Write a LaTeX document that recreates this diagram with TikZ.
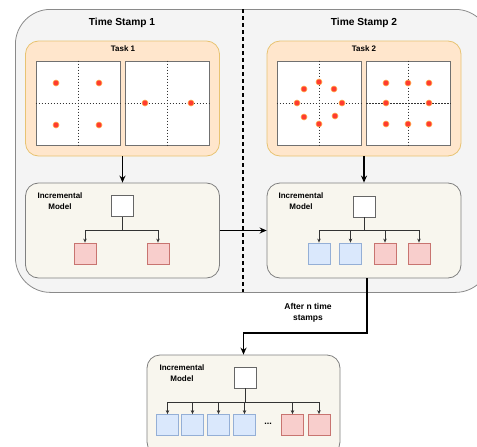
\documentclass[tikz,border=0pt]{standalone}
\usepackage{fontspec}
\setmainfont{Liberation Sans}
\usetikzlibrary{arrows.meta,calc}
\definecolor{outerfill}{HTML}{F4F4F4}
\definecolor{outerline}{HTML}{8A8A8A}
\definecolor{taskfill}{HTML}{FFE6CC}
\definecolor{taskline}{HTML}{E8C372}
\definecolor{modelfill}{HTML}{F8F6EE}
\definecolor{modelline}{HTML}{808080}
\definecolor{redfill}{HTML}{F8CECC}
\definecolor{redline}{HTML}{C87470}
\definecolor{bluefill}{HTML}{DAE8FC}
\definecolor{blueline}{HTML}{94AFD6}
\definecolor{dotfill}{HTML}{FF3B2F}
\definecolor{dotline}{HTML}{FFB050}
\definecolor{gridline}{HTML}{707070}
\tikzset{
  outerbox/.style={draw=outerline, fill=outerfill, line width=0.8pt, rounded corners=35pt, minimum width=475pt, minimum height=283pt, anchor=north west},
  taskbox/.style={draw=taskline, fill=taskfill, line width=0.8pt, rounded corners=13pt, minimum width=194pt, minimum height=115pt},
  modelbox/.style={draw=modelline, fill=modelfill, line width=0.8pt, rounded corners=13pt, minimum width=194pt, minimum height=95pt},
  gridsq/.style={draw=gridline, fill=white, line width=0.9pt, minimum width=84pt, minimum height=84pt},
  gridmid/.style={draw=black!80, line width=0.5pt, dash pattern=on 1.5pt off 1.5pt},
  dot/.style={circle, draw=dotline, fill=dotfill, line width=0.6pt, minimum size=6pt, inner sep=0pt},
  whitesq/.style={draw=black!60, fill=white, line width=0.8pt, minimum width=22pt, minimum height=21pt},
  redsq/.style={draw=redline, fill=redfill, line width=0.8pt, minimum width=22pt, minimum height=21pt},
  bluesq/.style={draw=blueline, fill=bluefill, line width=0.8pt, minimum width=22pt, minimum height=21pt},
  title/.style={font=\fontsize{10.2}{12}\selectfont\bfseries},
  lbl/.style={font=\fontsize{8}{11}\selectfont\bfseries, align=center, inner sep=0pt},
  bigarrow/.style={draw=black, line width=1.5pt, -{Stealth[length=7pt,width=6pt]}},
  treeline/.style={draw=black!80, line width=0.7pt},
  treearrow/.style={draw=black!80, line width=0.7pt, -{Stealth[length=4pt,width=3.5pt]}},
}
\begin{document}
\begin{tikzpicture}[x=1pt,y=-1pt]
\useasboundingbox (0,0) rectangle (477,447);
\clip (0,0) rectangle (477,447);

% outer time stamp box
\node[outerbox] (ts) at (15,9) {};
\coordinate (dtop) at (243,9);
\coordinate (dbot) at (243,292);
\draw[line width=1.4pt, dash pattern=on 4pt off 3pt] (dtop) -- (dbot);
\node[title] (ts1) at (122,23) {Time Stamp 1};
\node[title] (ts2) at (364,23) {Time Stamp 2};

% Task boxes
\node[taskbox] (t1) at (122.5,98.5) {};
\node[taskbox] (t2) at (364,98.5) {};
\node[lbl] (t1l) at (123,49) {Task 1};
\node[lbl] (t2l) at (364,49) {Task 2};

% grid squares
\foreach \n/\x in {sq1/78, sq2/167, sq3/319, sq4/408.5}{
  \node[gridsq] (\n) at (\x,103) {};
  \draw[gridmid] (\n.north) -- (\n.south);
  \draw[gridmid] (\n.west) -- (\n.east);
}
% dots
\foreach \x/\y [count=\i] in {56/83, 99/83, 56/125, 99/125, 145/103, 191/103,
  319/82, 304/89, 334/89, 297/103, 342/103, 304/117, 335/116, 319/124,
  386/83, 408/83, 429/83, 386/103, 429/103, 386/124, 408/124, 429/124}{
  \node[dot] (dot\i) at (\x,\y) {};
}

% Model boxes
\node[modelbox] (m1) at (122.5,230.5) {};
\node[modelbox] (m2) at (364,230.5) {};
\node[modelbox, minimum width=193pt, minimum height=100pt] (m3) at (243.5,405) {};
\node[lbl] (m1l) at (60,201) {Incremental\\Model};
\node[lbl] (m2l) at (301,201) {Incremental\\Model};
\node[lbl] (m3l) at (182,373) {Incremental\\Model};

% model 1 tree
\node[whitesq] (p1) at (122,206) {};
\node[redsq] (c11) at (85,253.5) {};
\node[redsq] (c12) at (158,253.5) {};
\coordinate (j1) at (122,230);
\draw[treeline] (p1.south) -- (j1);
\foreach \c in {c11,c12}{\draw[treearrow] (j1) -| (\c.north);}

% model 2 tree
\node[whitesq] (p2) at (364,206.5) {};
\node[bluesq] (c21) at (319,253.5) {};
\node[bluesq] (c22) at (350.5,253.5) {};
\node[redsq] (c23) at (385,253.5) {};
\node[redsq] (c24) at (419,253.5) {};
\coordinate (j2) at (364,230);
\draw[treeline] (p2.south) -- (j2);
\foreach \c in {c21,c22,c23,c24}{\draw[treearrow] (j2) -| (\c.north);}

% model 3 tree
\node[whitesq] (p3) at (245,377.5) {};
\node[bluesq] (c31) at (167.5,425) {};
\node[bluesq] (c32) at (192.5,425) {};
\node[bluesq] (c33) at (218.5,425) {};
\node[bluesq] (c34) at (244.5,425) {};
\node[font=\fontsize{9}{10}\selectfont\bfseries, inner sep=0pt] (ell) at (268,424) {...};
\node[redsq] (c35) at (292.5,425) {};
\node[redsq] (c36) at (319,425) {};
\coordinate (j3) at (245,402);
\draw[treeline] (p3.south) -- (j3);
\foreach \c in {c31,c32,c33,c34,c35,c36}{\draw[treearrow] (j3) -| (\c.north);}

% main arrows
\draw[bigarrow] (t1.south) -- (m1.north);
\draw[bigarrow] (t2.south) -- (m2.north);
\draw[bigarrow] (m1.east) -- (m2.west);
\coordinate (bend) at (367,333);
\draw[bigarrow] (m2.south -| bend) -- (bend) -| (m3.north);
\node[lbl, font=\fontsize{8.5}{11}\selectfont\bfseries] (after) at (308,313) {After n time\\stamps};
\end{tikzpicture}
\end{document}
